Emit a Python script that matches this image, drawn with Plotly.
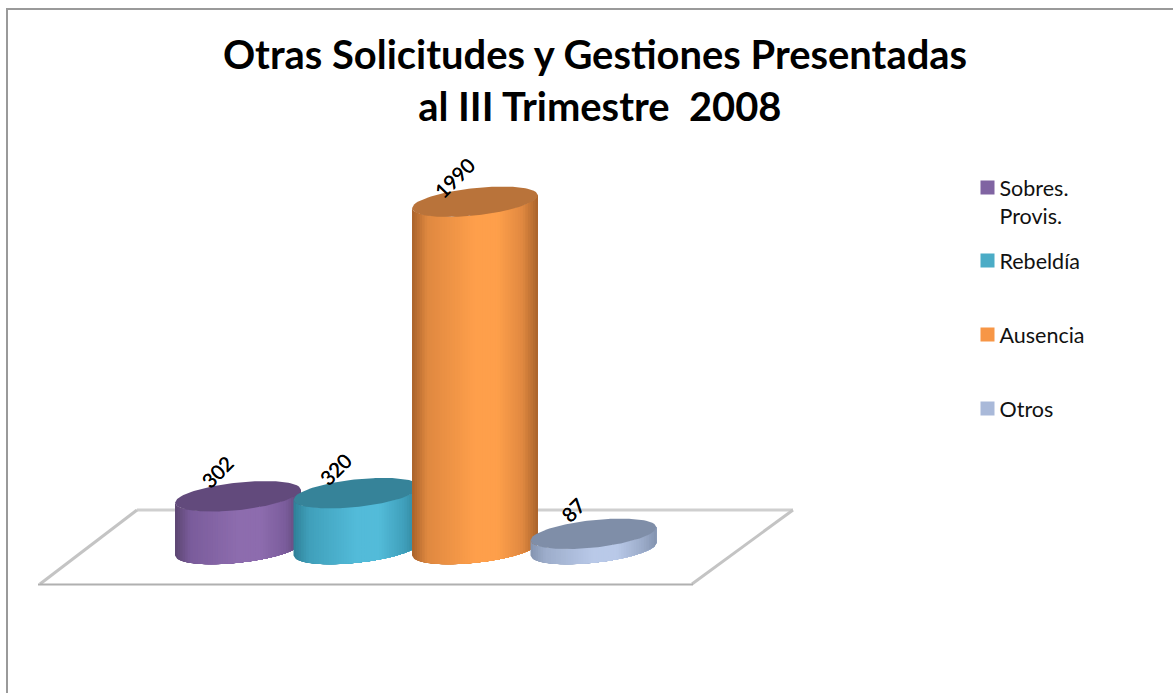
import plotly.graph_objects as go

# ---- data ----
categories = ["Sobres.<br>Provis.", "Rebeldía", "Ausencia", "Otros"]
values = [302, 320, 1990, 87]
title_lines = ["Otras Solicitudes y Gestiones Presentadas", "\u00a0al III Trimestre\u00a0\u00a02008"]

# ---- style ----
face_dark = ["#5b4570", "#2f7f97", "#a8622a", "#8494b0"]
face_mid = ["#7a5c9b", "#3f9fba", "#df8840", "#9dadcb"]
face_light = ["#8d6cae", "#53bbd9", "#fe9f4b", "#b9c9e8"]
cap_color = ["#624a7c", "#368399", "#b9733a", "#7f8ea8"]
legend_color = ["#8064a2", "#4bacc6", "#f79646", "#a9b9d9"]
FONT = "Lato"
W, H = 1173, 693

# scales: one category step and one value unit in pixels
STEP_PX = 118.5
FIRST_PX = 238.0
GROUND_PX = 549.0
UNIT_PX = 0.1745
x_range = [-FIRST_PX / STEP_PX, (W - FIRST_PX) / STEP_PX]
y_range = [(GROUND_PX - H) / UNIT_PX, GROUND_PX / UNIT_PX]

# cylinder shape (tilted ellipse), in axis units
A = 63 / STEP_PX
B = 13.8 / UNIT_PX
TILT = 6.5 / UNIT_PX / A   # rise of the ellipse over one x unit
N_STRIPS = 50


def hex_rgb(h):
    return [int(h[i:i + 2], 16) for i in (1, 3, 5)]


def shade(t, i):
    stops = [(0.0, face_dark[i]), (0.12, face_mid[i]), (0.5, face_light[i]), (0.68, face_light[i]),
             (0.88, face_mid[i]), (1.0, face_dark[i])]
    for (t0, c0), (t1, c1) in zip(stops, stops[1:]):
        if t <= t1:
            f = (t - t0) / (t1 - t0)
            a, b = hex_rgb(c0), hex_rgb(c1)
            return "rgb(%d,%d,%d)" % tuple(round(p + (q - p) * f) for p, q in zip(a, b))
    return face_dark[i]


def lower_arc(u, level):
    """y of the ellipse's front edge at x offset u (-A..A)."""
    s = max(0.0, 1 - (u / A) ** 2) ** 0.5
    return level + TILT * u - B * s


def upper_arc(u, level):
    s = max(0.0, 1 - (u / A) ** 2) ** 0.5
    return level + TILT * u + B * s


fig = go.Figure()

for i, (name, val) in enumerate(zip(categories, values)):
    us = [-A + 2 * A * k / 60 for k in range(61)]
    for s in range(N_STRIPS):
        u0 = -A + 2 * A * s / N_STRIPS
        run = [u0] + [u for u in us if u > u0]
        xs = [i + u for u in run]
        low = [lower_arc(u, 0) for u in run]
        high = [lower_arc(u, val) for u in run]
        fig.add_trace(go.Scatter(
            x=xs + xs[::-1] + [xs[0]], y=low + high[::-1] + [low[0]],
            mode="lines", line=dict(width=0), fill="toself",
            fillcolor=shade((s + 0.5) / N_STRIPS, i),
            hoverinfo="skip", showlegend=False))
    cap_x = [i + u for u in us] + [i + u for u in us[::-1]]
    cap_y = [lower_arc(u, val) for u in us] + [upper_arc(u, val) for u in us[::-1]]
    fig.add_trace(go.Scatter(
        x=cap_x, y=cap_y, mode="lines", line=dict(width=0), fill="toself",
        fillcolor=cap_color[i], hoverinfo="skip", showlegend=False))

# legend entries, one independent legend per item so the gaps can match
legend_y_px = [167, 240, 314, 388]
legend_cfg = {}
for i, name in enumerate(categories):
    key = "legend" if i == 0 else f"legend{i + 1}"
    fig.add_trace(go.Scatter(
        x=[None], y=[None], mode="markers", name=name, legend=key,
        marker=dict(symbol="square", size=14, color=legend_color[i])))
    legend_cfg[key] = dict(
        x=975.5 / W, xanchor="left", y=1 - legend_y_px[i] / H, yanchor="top",
        font=dict(family=FONT, size=21.5, color="#111111"),
        bgcolor="rgba(0,0,0,0)", borderwidth=0, itemwidth=30, indentation=-8)

# data labels
annotations = []
for i, val in enumerate(values):
    annotations.append(dict(
        x=i - 21 / STEP_PX, y=val + 24 / UNIT_PX, xref="x", yref="y",
        text=str(val), showarrow=False, textangle=-45,
        font=dict(family=FONT, size=20, color="#000000", shadow="0.4px 0 0 #000000")))


def px(x):
    return x / W


def py(y):
    return 1 - y / H


shapes = [
    # chart frame (its right and bottom sides leave the picture)
    dict(type="rect", xref="paper", yref="paper", x0=px(7), x1=px(1180), y0=py(9), y1=py(700),
         line=dict(color="#9a9a9a", width=2), layer="below"),
    # floor
    dict(type="line", xref="paper", yref="paper", x0=px(137), y0=py(510), x1=px(793), y1=py(510),
         line=dict(color="#cfcfcf", width=3), layer="below"),
    dict(type="line", xref="paper", yref="paper", x0=px(137), y0=py(510), x1=px(40), y1=py(584),
         line=dict(color="#c4c4c4", width=3), layer="below"),
    dict(type="line", xref="paper", yref="paper", x0=px(793), y0=py(510), x1=px(692), y1=py(584),
         line=dict(color="#c4c4c4", width=3), layer="below"),
    dict(type="line", xref="paper", yref="paper", x0=px(38), y0=py(584.5), x1=px(693), y1=py(584.5),
         line=dict(color="#b0b0b0", width=2), layer="below"),
]

fig.update_layout(
    width=W, height=H, autosize=False,
    margin=dict(l=0, r=0, t=0, b=0),
    paper_bgcolor="#ffffff", plot_bgcolor="rgba(0,0,0,0)",
    title=dict(text="<br>".join(title_lines), x=595 / W, xanchor="center",
               y=1 - 69 / H, yanchor="top",
               font=dict(family=FONT, size=39.9, color="#000000", weight="bold")),
    xaxis=dict(range=x_range, visible=False, fixedrange=True),
    yaxis=dict(range=y_range, visible=False, fixedrange=True),
    shapes=shapes, annotations=annotations, hovermode=False,
    **legend_cfg,
)
post = """
document.body.style.margin='0';document.body.style.overflow='hidden';
document.querySelectorAll('.legendtext,.legend2text,.legend3text,.legend4text').forEach(function(t){
  t.setAttribute('transform','translate(-8,0)');
});
var first=document.querySelector('.legendpoints');
if(first){first.setAttribute('transform','translate(0,-14)');}
"""
fig.write_html("out.html", config=dict(displayModeBar=False), post_script=post)
